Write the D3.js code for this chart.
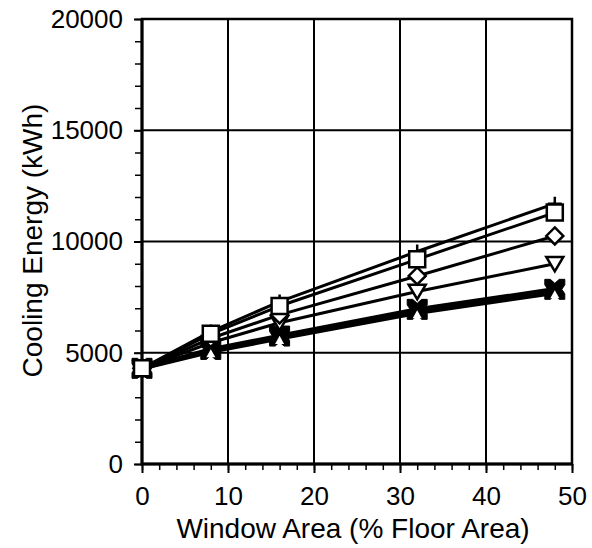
<!DOCTYPE html>
<html>
<head>
<meta charset="utf-8">
<script src="https://cdn.jsdelivr.net/npm/d3@7"></script>
<style>
  body { margin: 0; background: #fff; }
  text { font-family: "Liberation Sans", Arial, sans-serif; fill: #000; }
</style>
</head>
<body>
<div id="chart"></div>
<script>
// window area (% floor area)
var windowArea = [0, 8, 16, 32, 48];
// cooling energy (kWh), one array per curve
var plusSeries     = [4300, 5950, 7300, 9550, 11700];
var squareSeries   = [4300, 5850, 7100, 9200, 11300];
var diamondSeries  = [4300, 5650, 6700, 8450, 10250];
var triDownSeries  = [4300, 5450, 6350, 7750, 9000];
var crossSeries    = [4300, 5150, 5750, 6950, 7850];
var triUpSeries    = [4300, 5050, 5650, 6800, 7700];
var xTicks = [0, 10, 20, 30, 40, 50];
var yTicks = [0, 5000, 10000, 15000, 20000];

var series = [
  { name: "plus", values: plusSeries, width: 3 },
  { name: "square", values: squareSeries, width: 3 },
  { name: "diamond", values: diamondSeries, width: 3 },
  { name: "triDown", values: triDownSeries, width: 3 },
  { name: "cross", values: crossSeries, width: 4.5 },
  { name: "triUp", values: triUpSeries, width: 4.5 }
];

var margin = { top: 19, right: 20, bottom: 84, left: 142 },
    width = 572 - margin.left,
    height = 464 - margin.top;

var svg = d3.select("#chart").append("svg")
    .attr("width", 592).attr("height", 548)
  .append("g")
    .attr("transform", "translate(" + margin.left + "," + margin.top + ")");

var x = d3.scaleLinear().domain([0, 50]).range([0, width]);
var y = d3.scaleLinear().domain([0, 20000]).range([height, 0]);

// grid
svg.append("g").selectAll("line").data(xTicks.slice(1, -1)).enter().append("line")
    .attr("x1", d => x(d)).attr("x2", d => x(d)).attr("y1", 0).attr("y2", height)
    .attr("stroke", "#000").attr("stroke-width", 2);
svg.append("g").selectAll("line").data(yTicks.slice(1, -1)).enter().append("line")
    .attr("y1", d => y(d)).attr("y2", d => y(d)).attr("x1", 0).attr("x2", width)
    .attr("stroke", "#000").attr("stroke-width", 2);

// minor ticks
svg.append("g").call(d3.axisLeft(y).tickValues(d3.range(0, 20001, 1000)).tickSize(7).tickFormat(""))
    .call(g => g.select(".domain").remove())
    .selectAll("line").attr("stroke-width", 1.5);
svg.append("g").attr("transform", "translate(0," + height + ")")
    .call(d3.axisBottom(x).tickValues(d3.range(0, 51, 2)).tickSize(6).tickFormat(""))
    .call(g => g.select(".domain").remove())
    .selectAll("line").attr("stroke-width", 1.5);

// major axes
var yAxis = svg.append("g")
    .call(d3.axisLeft(y).tickValues(yTicks).tickSize(8).tickPadding(11).tickFormat(d3.format("d")));
yAxis.select(".domain").remove();
yAxis.selectAll("line").attr("stroke-width", 2);
yAxis.selectAll("text").style("font-size", "26px");

var xAxis = svg.append("g").attr("transform", "translate(0," + height + ")")
    .call(d3.axisBottom(x).tickValues(xTicks).tickSize(9).tickPadding(14));
xAxis.select(".domain").remove();
xAxis.selectAll("line").attr("stroke-width", 2);
xAxis.selectAll("text").style("font-size", "26px");

// frame
svg.append("rect").attr("width", width).attr("height", height)
    .attr("fill", "none").attr("stroke", "#000").attr("stroke-width", 2.5);
svg.append("path").attr("d", "M0,0V" + height + "H" + width)
    .attr("fill", "none").attr("stroke", "#000").attr("stroke-width", 3);

// titles
svg.append("text")
    .attr("x", width / 2 - 4).attr("y", height + 74)
    .attr("text-anchor", "middle").style("font-size", "28px")
    .text("Window Area (% Floor Area)");
svg.append("text")
    .attr("transform", "translate(" + (-100) + "," + (height / 2 - 1) + ")rotate(-90)")
    .attr("text-anchor", "middle").style("font-size", "28px")
    .text("Cooling Energy (kWh)");

// lines
var line = d3.line().x((d, i) => x(windowArea[i])).y(d => y(d));
svg.append("g").selectAll("path").data(series).enter().append("path")
    .attr("d", d => line(d.values))
    .attr("fill", "none").attr("stroke", "#000")
    .attr("stroke-width", d => d.width).attr("stroke-linejoin", "round");

// markers
var shapes = {
  plus: { draw: function (c, s) { var r = 7; c.moveTo(-r, 0); c.lineTo(r, 0); c.moveTo(0, -r); c.lineTo(0, r); } },
  square: { draw: function (c, s) { var r = 8; c.rect(-r, -r, 2 * r, 2 * r); } },
  diamond: { draw: function (c, s) { var r = 8.5; c.moveTo(0, -r); c.lineTo(r, 0); c.lineTo(0, r); c.lineTo(-r, 0); c.closePath(); } },
  triDown: { draw: function (c, s) { var r = 8.5; c.moveTo(-r, -r * 0.8); c.lineTo(r, -r * 0.8); c.lineTo(0, r * 0.9); c.closePath(); } },
  cross: { draw: function (c, s) { var a = 10, b = 4.5;
    c.moveTo(-a, -a); c.lineTo(-b, -a); c.lineTo(0, -a + 4); c.lineTo(b, -a); c.lineTo(a, -a);
    c.lineTo(a, -b); c.lineTo(a - 3, 0); c.lineTo(a, b); c.lineTo(a, a);
    c.lineTo(b, a); c.lineTo(0, a - 4); c.lineTo(-b, a); c.lineTo(-a, a);
    c.lineTo(-a, b); c.lineTo(-a + 3, 0); c.lineTo(-a, -b); c.closePath(); } },
  triUp: { draw: function (c, s) { var r = 4.5; c.moveTo(0, -r); c.lineTo(r, r * 0.8); c.lineTo(-r, r * 0.8); c.closePath(); } }
};

var order = ["plus", "triUp", "cross", "triDown", "diamond", "square"];
order.forEach(function (name) {
  var s = series.find(d => d.name === name);
  var open = name === "plus";
  svg.append("g").selectAll("path").data(s.values).enter().append("path")
      .attr("transform", (d, i) => "translate(" + x(windowArea[i]) + "," + y(d) + ")")
      .attr("d", d3.symbol().type(shapes[name]))
      .attr("fill", name === "cross" ? "#000" : (open ? "none" : "#fff"))
      .attr("stroke", "#000")
      .attr("stroke-width", name === "cross" ? 1 : 2.5);
});
// white triangle drawn over the filled marker
var tu = series.find(d => d.name === "triUp");
svg.append("g").selectAll("path").data(tu.values).enter().append("path")
    .attr("transform", (d, i) => "translate(" + x(windowArea[i]) + "," + (y(d) + 2) + ")")
    .attr("d", d3.symbol().type(shapes.triUp))
    .attr("fill", "#fff").attr("stroke", "none");
</script>
</body>
</html>
